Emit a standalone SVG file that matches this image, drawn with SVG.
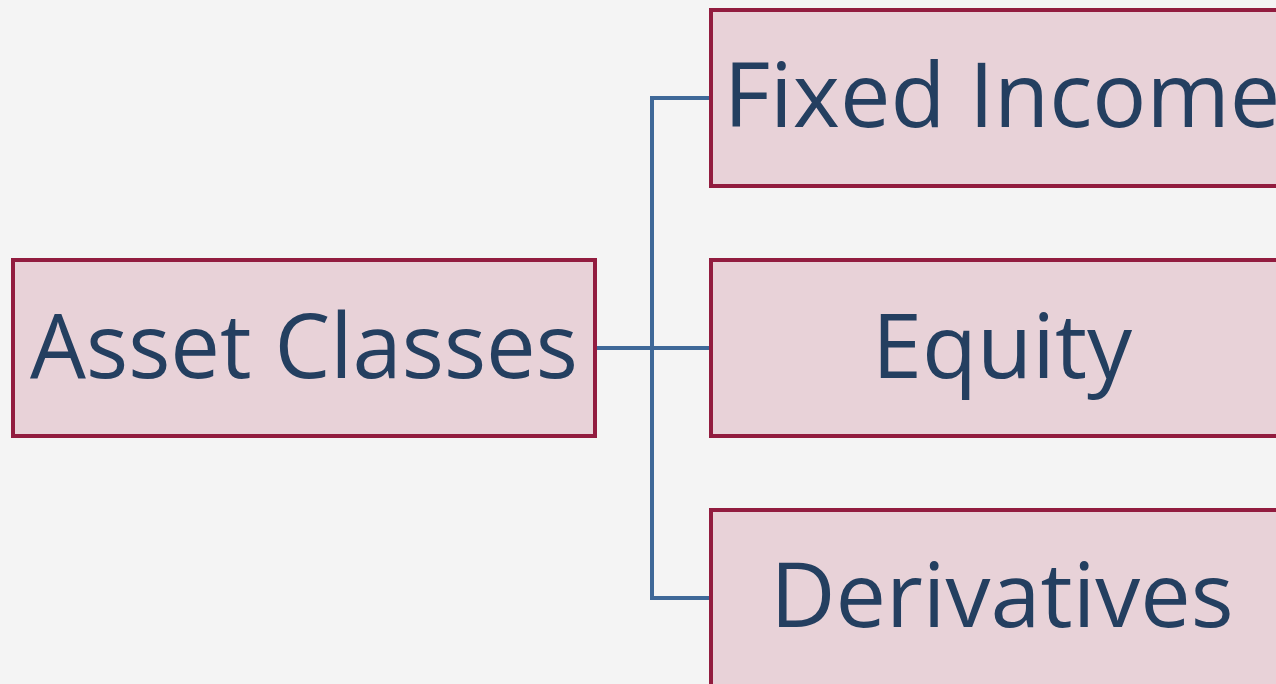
<svg xmlns="http://www.w3.org/2000/svg" width="1276" height="684" viewBox="0 0 1276 684">
<style>
.box{fill:#e8d2d8;stroke:#921c3f;stroke-width:4}
.lbl{font-family:"Open Sans","Liberation Sans",sans-serif;font-size:90px;fill:#243f60;text-anchor:middle}
.conn{fill:none;stroke:#3f6898;stroke-width:4}
</style>
<rect x="0" y="0" width="1276" height="684" fill="#f4f4f4"/>
<g id="connectors">
<path class="conn" d="M597,348 H711 M711,98 H652 V598 H711"/>
</g>
<g id="asset-classes">
<rect class="box" x="13" y="260" width="582" height="176"/>
<text class="lbl" x="304" y="378" textLength="548" lengthAdjust="spacingAndGlyphs">Asset Classes</text>
</g>
<g id="fixed-income">
<rect class="box" x="711" y="10" width="582" height="176"/>
<text class="lbl" x="1002" y="127">Fixed Income</text>
</g>
<g id="equity">
<rect class="box" x="711" y="260" width="582" height="176"/>
<text class="lbl" x="1002" y="378">Equity</text>
</g>
<g id="derivatives">
<rect class="box" x="711" y="510" width="582" height="176"/>
<text class="lbl" x="1002" y="627">Derivatives</text>
</g>
</svg>
